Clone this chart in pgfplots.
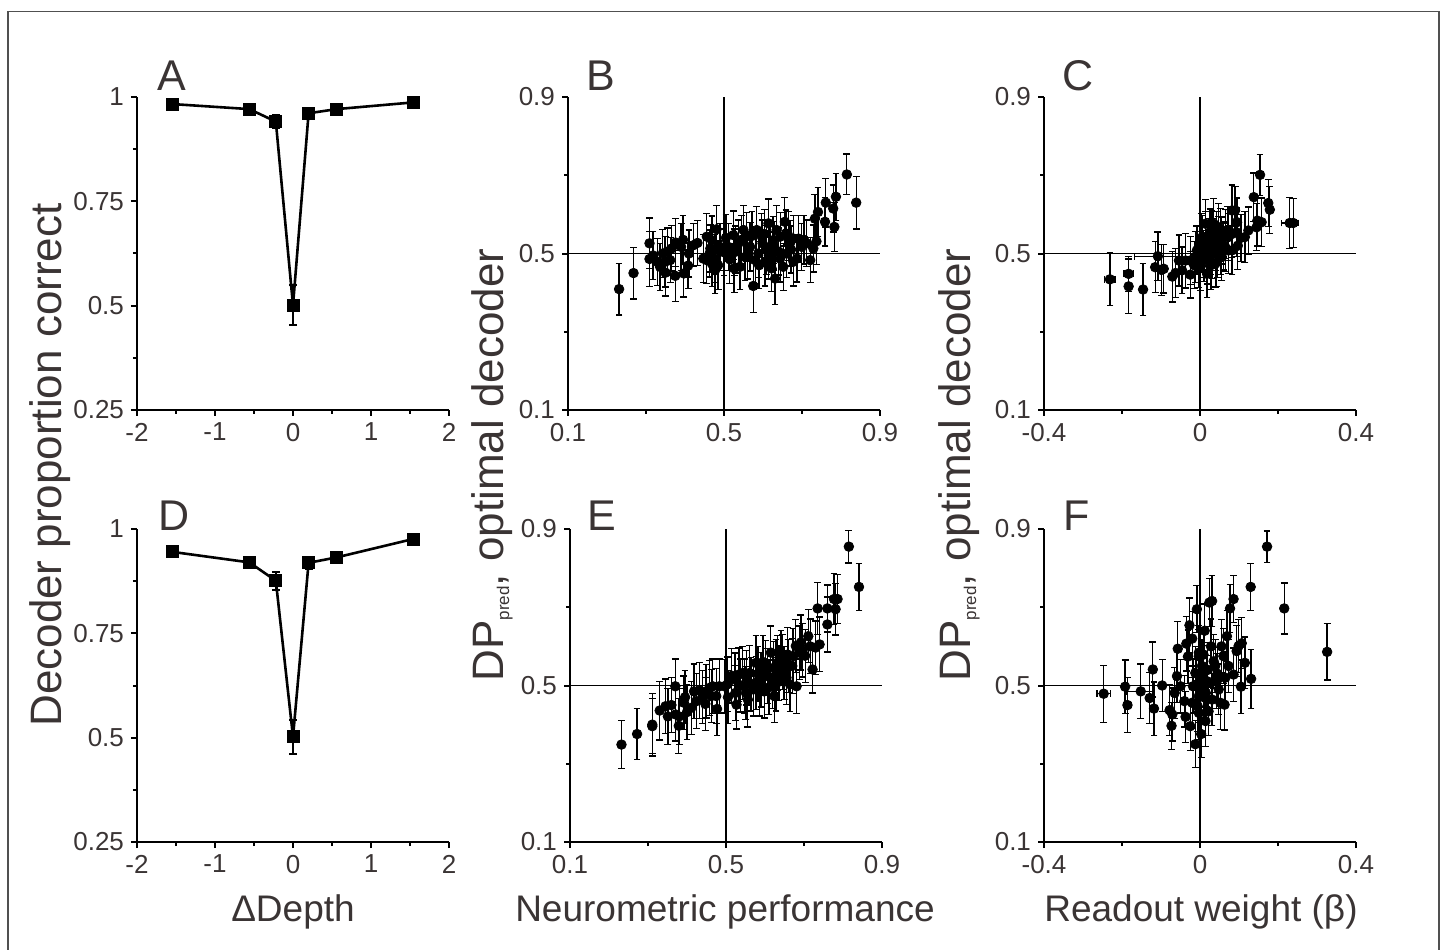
\documentclass[border=0pt]{standalone}
\usepackage{pgfplots}
\pgfplotsset{compat=1.18}
\usepackage{pgfplotstable}
\usepackage{fontspec}
\setmainfont{Liberation Sans}
\definecolor{txt}{RGB}{58,52,52}
\definecolor{framec}{RGB}{80,80,80}

% Panel A / D: x y ey
\pgfplotstableread{
x y ey
-1.54 0.983 0.004
-0.56 0.971 0.006
-0.22 0.941 0.015
0 0.501 0.048
0.2 0.961 0.008
0.56 0.971 0.006
1.54 0.987 0.004
}\tabA
\pgfplotstableread{
x y ey
-1.54 0.945 0.006
-0.56 0.920 0.012
-0.22 0.876 0.022
0 0.502 0.041
0.2 0.919 0.014
0.56 0.932 0.011
1.54 0.976 0.005
}\tabD

\pgfplotstableread{
x y ey
0.231 0.409 0.066
0.268 0.450 0.066
0.309 0.526 0.065
0.309 0.486 0.070
0.329 0.479 0.060
0.343 0.500 0.062
0.349 0.479 0.065
0.350 0.451 0.060
0.366 0.513 0.058
0.376 0.528 0.062
0.375 0.443 0.065
0.390 0.517 0.060
0.397 0.449 0.060
0.408 0.469 0.058
0.421 0.521 0.055
0.432 0.527 0.058
0.447 0.487 0.062
0.456 0.543 0.060
0.465 0.513 0.060
0.469 0.474 0.058
0.477 0.457 0.060
0.481 0.562 0.060
0.477 0.487 0.062
0.490 0.517 0.060
0.500 0.503 0.060
0.524 0.547 0.062
0.526 0.503 0.060
0.526 0.462 0.062
0.537 0.526 0.060
0.550 0.560 0.062
0.554 0.491 0.060
0.567 0.517 0.062
0.575 0.417 0.067
0.584 0.560 0.060
0.588 0.500 0.062
0.599 0.526 0.060
0.605 0.479 0.062
0.614 0.577 0.062
0.618 0.517 0.060
0.622 0.462 0.060
0.631 0.436 0.066
0.635 0.560 0.062
0.644 0.487 0.060
0.656 0.581 0.062
0.659 0.551 0.060
0.661 0.500 0.062
0.678 0.538 0.060
0.678 0.479 0.062
0.691 0.538 0.060
0.699 0.517 0.060
0.712 0.526 0.060
0.721 0.483 0.058
0.729 0.513 0.060
0.733 0.589 0.062
0.737 0.531 0.060
0.741 0.606 0.062
0.759 0.581 0.062
0.761 0.630 0.062
0.780 0.615 0.060
0.783 0.568 0.062
0.787 0.645 0.060
0.815 0.702 0.052
0.839 0.630 0.067
0.511 0.517 0.060
0.541 0.466 0.058
0.558 0.543 0.062
0.580 0.483 0.060
0.597 0.543 0.060
0.609 0.509 0.062
0.626 0.534 0.060
0.644 0.543 0.062
0.652 0.466 0.060
0.669 0.526 0.058
0.687 0.487 0.060
0.456 0.483 0.060
0.469 0.534 0.062
0.336 0.466 0.060
0.362 0.483 0.058
0.463 0.500 0.060
0.485 0.470 0.062
0.505 0.540 0.060
0.515 0.485 0.062
0.530 0.510 0.060
0.545 0.535 0.062
0.560 0.495 0.060
0.572 0.545 0.062
0.590 0.470 0.060
0.603 0.550 0.062
0.615 0.495 0.060
0.628 0.520 0.062
0.640 0.505 0.060
0.665 0.545 0.062
0.672 0.510 0.060
0.705 0.535 0.062
0.410 0.500 0.060
0.395 0.535 0.062
0.355 0.505 0.060
0.318 0.495 0.062
}\tabB

\pgfplotstableread{
x y ey
-0.183 0.416 0.070
-0.146 0.408 0.067
-0.115 0.465 0.065
-0.099 0.458 0.065
-0.093 0.461 0.062
-0.071 0.441 0.065
-0.063 0.450 0.062
-0.054 0.482 0.065
-0.037 0.482 0.070
-0.025 0.446 0.060
-0.012 0.491 0.065
-0.003 0.478 0.065
0.005 0.516 0.065
0.009 0.499 0.060
0.014 0.542 0.065
0.018 0.482 0.060
0.022 0.525 0.065
0.026 0.554 0.060
0.031 0.499 0.062
0.035 0.576 0.065
0.039 0.516 0.060
0.043 0.542 0.065
0.048 0.567 0.060
0.052 0.508 0.062
0.056 0.533 0.060
0.065 0.550 0.062
0.073 0.542 0.060
0.082 0.610 0.065
0.090 0.610 0.062
0.094 0.554 0.062
0.097 0.520 0.060
0.115 0.542 0.065
0.138 0.644 0.062
0.145 0.567 0.060
0.147 0.584 0.065
0.154 0.701 0.052
0.158 0.580 0.062
0.175 0.629 0.060
0.179 0.612 0.060
-0.008 0.508 0.062
0.001 0.465 0.060
0.007 0.533 0.065
0.018 0.448 0.060
0.026 0.508 0.062
0.039 0.474 0.060
0.048 0.533 0.062
0.056 0.491 0.060
0.065 0.516 0.062
0.073 0.508 0.060
0.014 0.576 0.062
0.031 0.550 0.060
0.043 0.478 0.062
0.082 0.550 0.060
-0.025 0.482 0.062
-0.046 0.457 0.060
0.082 0.508 0.062
0.124 0.559 0.060
0.010 0.490 0.062
0.020 0.520 0.060
0.028 0.470 0.062
0.035 0.530 0.060
0.045 0.500 0.062
0.052 0.555 0.060
0.060 0.520 0.062
0.070 0.560 0.060
0.003 0.540 0.062
-0.015 0.470 0.060
0.095 0.580 0.062
0.105 0.540 0.060
}\tabC
\pgfplotstableread{
x y ex ey
-0.231 0.434 0.013 0.067
-0.183 0.448 0.012 0.045
-0.108 0.493 0.060 0.062
0.230 0.578 0.021 0.065
0.239 0.578 0.010 0.062
}\tabCx

\pgfplotstableread{
x y ey
0.232 0.349 0.062
0.272 0.376 0.066
0.311 0.400 0.080
0.311 0.396 0.070
0.330 0.436 0.075
0.345 0.447 0.070
0.351 0.421 0.072
0.370 0.498 0.070
0.371 0.426 0.068
0.379 0.397 0.070
0.380 0.421 0.072
0.392 0.456 0.068
0.400 0.432 0.070
0.411 0.443 0.068
0.424 0.460 0.070
0.432 0.487 0.072
0.447 0.453 0.068
0.458 0.494 0.070
0.462 0.473 0.068
0.475 0.473 0.070
0.477 0.440 0.068
0.483 0.498 0.070
0.496 0.498 0.068
0.504 0.503 0.070
0.523 0.515 0.068
0.524 0.481 0.070
0.527 0.451 0.062
0.533 0.528 0.068
0.547 0.498 0.070
0.551 0.481 0.068
0.560 0.532 0.070
0.564 0.503 0.068
0.577 0.558 0.070
0.577 0.507 0.068
0.590 0.515 0.070
0.598 0.485 0.068
0.607 0.524 0.070
0.615 0.584 0.068
0.619 0.511 0.070
0.628 0.503 0.068
0.636 0.532 0.070
0.641 0.572 0.068
0.658 0.579 0.070
0.660 0.550 0.068
0.664 0.503 0.070
0.679 0.601 0.068
0.681 0.498 0.070
0.688 0.584 0.068
0.692 0.610 0.070
0.703 0.576 0.068
0.711 0.626 0.068
0.722 0.541 0.060
0.730 0.597 0.068
0.735 0.697 0.066
0.740 0.605 0.070
0.760 0.697 0.060
0.760 0.656 0.070
0.777 0.721 0.065
0.781 0.695 0.066
0.786 0.721 0.062
0.815 0.855 0.042
0.841 0.752 0.060
0.449 0.485 0.068
0.466 0.498 0.070
0.543 0.532 0.068
0.556 0.464 0.070
0.586 0.490 0.068
0.602 0.545 0.070
0.624 0.473 0.068
0.632 0.558 0.070
0.649 0.532 0.068
0.670 0.550 0.070
0.628 0.550 0.068
0.505 0.470 0.068
0.515 0.525 0.070
0.538 0.500 0.068
0.553 0.520 0.070
0.570 0.490 0.068
0.582 0.530 0.070
0.595 0.560 0.068
0.610 0.495 0.070
0.622 0.545 0.068
0.645 0.560 0.070
0.655 0.520 0.068
0.672 0.575 0.070
0.696 0.590 0.068
0.716 0.600 0.070
0.440 0.470 0.068
0.418 0.485 0.070
0.395 0.470 0.068
0.360 0.450 0.070
}\tabE

\pgfplotstableread{
x y ey
-0.192 0.497 0.068
-0.129 0.468 0.065
-0.121 0.541 0.070
-0.118 0.441 0.068
-0.097 0.500 0.066
-0.078 0.437 0.065
-0.071 0.426 0.068
-0.073 0.397 0.060
-0.065 0.481 0.065
-0.059 0.524 0.068
-0.057 0.594 0.070
-0.037 0.420 0.065
-0.035 0.607 0.070
-0.031 0.574 0.068
-0.027 0.654 0.070
-0.025 0.396 0.062
-0.018 0.498 0.068
-0.012 0.350 0.060
-0.008 0.695 0.060
-0.006 0.447 0.065
-0.003 0.473 0.068
0.001 0.515 0.070
0.003 0.376 0.060
0.005 0.550 0.068
0.009 0.579 0.070
0.014 0.409 0.065
0.015 0.481 0.068
0.022 0.434 0.062
0.024 0.712 0.062
0.031 0.716 0.065
0.035 0.562 0.068
0.043 0.511 0.070
0.048 0.490 0.065
0.052 0.456 0.068
0.060 0.575 0.070
0.063 0.451 0.065
0.069 0.626 0.065
0.073 0.550 0.068
0.077 0.697 0.062
0.086 0.721 0.060
0.086 0.528 0.068
0.094 0.588 0.065
0.099 0.601 0.068
0.105 0.497 0.068
0.107 0.608 0.065
0.115 0.558 0.066
0.131 0.517 0.075
0.130 0.752 0.060
0.172 0.855 0.040
0.216 0.697 0.065
0.326 0.586 0.072
-0.003 0.575 0.068
0.007 0.532 0.070
-0.012 0.532 0.068
0.018 0.511 0.066
0.039 0.550 0.068
-0.020 0.456 0.065
-0.003 0.430 0.068
0.031 0.464 0.066
-0.050 0.498 0.068
-0.003 0.584 0.070
0.010 0.470 0.068
0.020 0.540 0.070
-0.010 0.500 0.068
0.028 0.600 0.070
0.045 0.530 0.068
-0.040 0.460 0.066
0.055 0.600 0.068
-0.020 0.620 0.070
0.012 0.640 0.068
0.065 0.520 0.066
}\tabF
\pgfplotstableread{
x y ex ey
-0.247 0.479 0.017 0.073
-0.186 0.450 0.009 0.070
-0.152 0.485 0.035 0.070
}\tabFx

\pgfplotsset{
  panel/.style={
    scale only axis, width=156pt, height=156.5pt,
    axis lines=left, axis line style={-, line width=1.2pt, black},
    tick align=outside, major tick length=3pt, minor tick length=2pt,
    tick style={black, line width=1pt},
    tick label style={font=\fontsize{13}{15}\selectfont, text=txt},
    /pgf/number format/assume math mode=true,
    clip=false,
  },
  scat/.style={only marks, mark=*, mark size=2.4pt, black,
    mark options={fill=black, draw=black},
    error bars/y dir=both, error bars/y explicit,
    error bars/error bar style={line width=0.65pt, black},
    error bars/error mark options={rotate=90, black, mark size=1.7pt, line width=0.65pt}},
  scatx/.style={scat, error bars/x dir=both, error bars/x explicit},
  linesq/.style={black, line width=1.3pt, mark=square*, mark size=3pt,
    mark options={fill=black, draw=black, line width=0.5pt},
    error bars/y dir=both, error bars/y explicit,
    error bars/error bar style={line width=1pt, black},
    error bars/error mark options={rotate=90, black, mark size=2pt, line width=1pt}},
  refl/.style={black, line width=0.65pt, no marks, forget plot},
}

\begin{document}
\begin{tikzpicture}[x=0.5pt, y=0.5pt]
\useasboundingbox (0,0) rectangle (1447,949);
\draw[framec, line width=0.8pt] (8,-20) -- (8,937.3) -- (1439,937.3) -- (1439,-20);

% ---------- A ----------
\begin{axis}[panel, at={(68.5pt,269.5pt)}, anchor=south west,
  xmin=-2, xmax=2, ymin=0.25, ymax=1,
  xtick={-2,-1,0,1,2}, minor xtick={-1.5,-0.5,0.5,1.5},
  ytick={0.25,0.5,0.75,1}, minor ytick={0.375,0.625,0.875}]
\addplot[linesq] table[x=x, y=y, y error=ey] {\tabA};
\end{axis}

% ---------- D ----------
\begin{axis}[panel, at={(68.5pt,53.5pt)}, anchor=south west,
  xmin=-2, xmax=2, ymin=0.25, ymax=1,
  xtick={-2,-1,0,1,2}, minor xtick={-1.5,-0.5,0.5,1.5},
  ytick={0.25,0.5,0.75,1}, minor ytick={0.375,0.625,0.875}]
\addplot[linesq] table[x=x, y=y, y error=ey] {\tabD};
\end{axis}

% ---------- B ----------
\begin{axis}[panel, at={(284pt,269.5pt)}, anchor=south west,
  xmin=0.1, xmax=0.9, ymin=0.1, ymax=0.9,
  xtick={0.1,0.5,0.9}, minor xtick={0.3,0.7},
  ytick={0.1,0.5,0.9}, minor ytick={0.3,0.7}]
\addplot[refl] coordinates {(0.1,0.5) (0.9,0.5)};
\addplot[refl] coordinates {(0.5,0.1) (0.5,0.9)};
\addplot[scat] table[x=x, y=y, y error=ey] {\tabB};
\end{axis}

% ---------- E ----------
\begin{axis}[panel, at={(285pt,53.5pt)}, anchor=south west,
  xmin=0.1, xmax=0.9, ymin=0.1, ymax=0.9,
  xtick={0.1,0.5,0.9}, minor xtick={0.3,0.7},
  ytick={0.1,0.5,0.9}, minor ytick={0.3,0.7}]
\addplot[refl] coordinates {(0.1,0.5) (0.9,0.5)};
\addplot[refl] coordinates {(0.5,0.1) (0.5,0.9)};
\addplot[scat] table[x=x, y=y, y error=ey] {\tabE};
\end{axis}

% ---------- C ----------
\begin{axis}[panel, at={(522pt,269.5pt)}, anchor=south west,
  xmin=-0.4, xmax=0.4, ymin=0.1, ymax=0.9,
  xtick={-0.4,0,0.4}, minor xtick={-0.2,0.2},
  ytick={0.1,0.5,0.9}, minor ytick={0.3,0.7}]
\addplot[refl] coordinates {(-0.4,0.5) (0.4,0.5)};
\addplot[refl] coordinates {(0,0.1) (0,0.9)};
\addplot[scat] table[x=x, y=y, y error=ey] {\tabC};
\addplot[scatx] table[x=x, y=y, x error=ex, y error=ey] {\tabCx};
\end{axis}

% ---------- F ----------
\begin{axis}[panel, at={(522pt,53.5pt)}, anchor=south west,
  xmin=-0.4, xmax=0.4, ymin=0.1, ymax=0.9,
  xtick={-0.4,0,0.4}, minor xtick={-0.2,0.2},
  ytick={0.1,0.5,0.9}, minor ytick={0.3,0.7}]
\addplot[refl] coordinates {(-0.4,0.5) (0.4,0.5)};
\addplot[refl] coordinates {(0,0.1) (0,0.9)};
\addplot[scat] table[x=x, y=y, y error=ey] {\tabF};
\addplot[scatx] table[x=x, y=y, x error=ex, y error=ey] {\tabFx};
\end{axis}

% ---------- panel letters ----------
\begin{scope}[every node/.style={anchor=base west, inner sep=0pt, text=txt, font=\fontsize{21.5}{24}\selectfont}]
\node at (157,858) {A};
\node at (586,858) {B};
\node at (1062,858) {C};
\node at (158,418) {D};
\node at (587,418) {E};
\node at (1063,418) {F};
\end{scope}

% ---------- axis labels ----------
\begin{scope}[every node/.style={anchor=base, inner sep=0pt, text=txt, font=\fontsize{18.5}{22}\selectfont}]
\node at (293,28) {ΔDepth};
\node at (725,28) {Neurometric performance};
\node at (1201,28) {Readout weight (β)};
\end{scope}
\begin{scope}[every node/.style={anchor=base, rotate=90, inner sep=0pt, text=txt, font=\fontsize{22}{26}\selectfont}]
\node at (62,484) {Decoder proportion correct};
\node at (503,484) {DP\raisebox{-3pt}{\fontsize{8.5}{9}\selectfont pred}, optimal decoder};
\node at (970,484) {DP\raisebox{-3pt}{\fontsize{8.5}{9}\selectfont pred}, optimal decoder};
\end{scope}
\end{tikzpicture}
\end{document}
